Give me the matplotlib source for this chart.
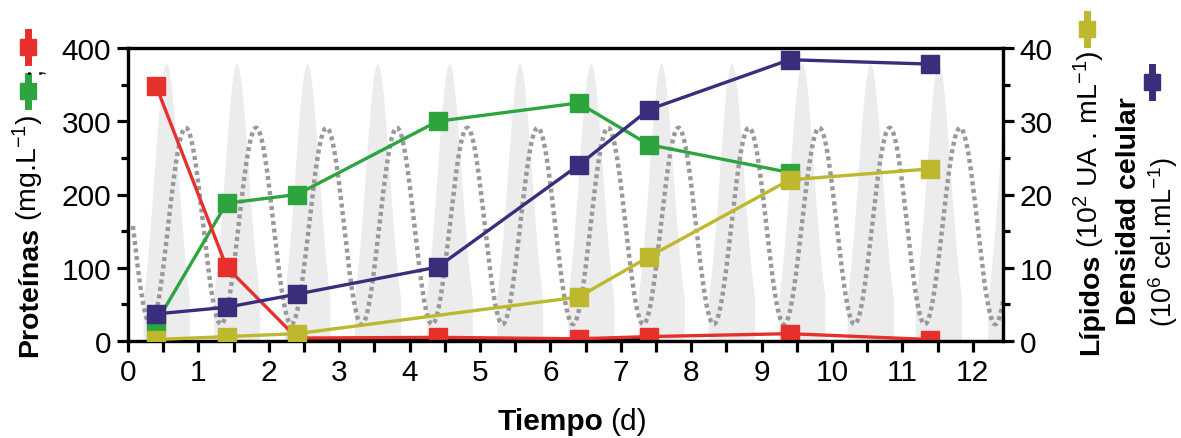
import numpy as np
import matplotlib
matplotlib.use("Agg")
import matplotlib.pyplot as plt
from matplotlib.lines import Line2D
from matplotlib.ticker import MultipleLocator

plt.rcParams['font.family'] = ['Liberation Sans', 'DejaVu Sans']
plt.rcParams['mathtext.fontset'] = 'custom'
plt.rcParams['mathtext.rm'] = 'Liberation Sans'
plt.rcParams['mathtext.it'] = 'Liberation Sans:italic'
plt.rcParams['mathtext.bf'] = 'Liberation Sans:bold'

# datos (tiempo en dias)
t_prot = [0.4, 1.4, 2.4, 4.4, 6.4, 7.4, 9.4, 11.4]
proteinas_a = [348, 101, 4, 5, 3, 6, 10, 2]          # rojo, mg/L
t_prot_b = [0.4, 1.4, 2.4, 4.4, 6.4, 7.4, 9.4]
proteinas_b = [25, 188, 200, 300, 325, 268, 230]     # verde, mg/L
t_negro = [2.4, 4.4, 6.4, 7.4]
negro = [2, 1, 1, 4]

t_lip = [0.4, 1.4, 2.4, 6.4, 7.4, 9.4, 11.4]
lipidos = [0.2, 0.6, 1.0, 6.0, 11.5, 22.0, 23.5]     # 10^2 UA/mL
t_dens = [0.4, 1.4, 2.4, 4.4, 6.4, 7.4, 9.4, 11.4]
densidad = [3.7, 4.6, 6.4, 10.1, 24.0, 31.6, 38.4, 37.8]  # 10^6 cel/mL

# ciclo de luz (fondo)
picos_luz = [0.55, 1.55, 2.55, 3.55, 4.57, 5.57, 6.58, 7.58, 8.58, 9.58, 10.55, 11.52, 12.55]
altura_pico = 378
valles_ciclo = [0.32 + i for i in range(13)]
ciclo_max, ciclo_min = 291, 23

rojo = '#e6302c'
verde = '#2ea43f'
azul = '#382e7c'
amarillo = '#bdb82e'

W, H = 1181, 439
fig = plt.figure(figsize=(W / 100, H / 100), dpi=100)
ax = fig.add_axes([128 / W, 1 - 342 / H, (1003 - 128) / W, (342 - 49) / H])
ax2 = ax.twinx()

# fondo: picos grises
xs = np.linspace(-0.5, 13, 3000)
fondo = np.zeros_like(xs)
for c in picos_luz:
    m = np.abs(xs - c) <= 0.33
    fondo[m] = np.maximum(fondo[m], altura_pico * np.exp(-(xs[m] - c) ** 2 / (2 * 0.17 ** 2)))
ax.fill_between(xs, 0, fondo, where=fondo > 0, color='#ececec', lw=0, zorder=0)

# curva punteada
xc = np.linspace(0.07, 12.45, 2000)
mid = (ciclo_max + ciclo_min) / 2
amp = (ciclo_max - ciclo_min) / 2
yc = mid - amp * np.cos(2 * np.pi * (xc - valles_ciclo[0]))
ax.plot(xc, yc, color='#999999', lw=3.2, ls=(0, (0.9, 0.8)), zorder=1)

lw, ms = 2.4, 13
ax.plot(t_negro, negro, color='black', lw=3, zorder=2)
ax.plot(t_prot_b, proteinas_b, color=verde, lw=lw, marker='s', ms=ms, zorder=3)
ax.plot(t_prot, proteinas_a, color=rojo, lw=lw, marker='s', ms=ms, zorder=4)
ax2.plot(t_dens, densidad, color=azul, lw=lw, marker='s', ms=ms, zorder=3)
ax2.plot(t_lip, lipidos, color=amarillo, lw=lw, marker='s', ms=ms, zorder=4)

ax.set_xlim(0, 12.43)
ax.set_ylim(0, 400)
ax2.set_ylim(0, 40)
ax.xaxis.set_major_locator(MultipleLocator(1))
ax.xaxis.set_minor_locator(MultipleLocator(0.5))
ax.yaxis.set_major_locator(MultipleLocator(100))
ax.yaxis.set_minor_locator(MultipleLocator(50))
ax2.yaxis.set_major_locator(MultipleLocator(10))
ax2.yaxis.set_minor_locator(MultipleLocator(5))

for a in (ax, ax2):
    for s in a.spines.values():
        s.set_linewidth(2.3)
    a.tick_params(which='major', direction='out', length=8, width=2.3, labelsize=21.5, pad=4)
    a.tick_params(which='minor', direction='out', length=5, width=2.3)
ax.tick_params(axis='x', which='minor', length=8)

# textos de ejes
r = fig.canvas.get_renderer()


def texto_vertical(x, y, partes, fs=20.5):
    yy = 1 - y / H
    for s, w in partes:
        t = fig.text(x / W, yy, s, rotation=90, rotation_mode='anchor',
                     ha='left', va='baseline', fontsize=fs, fontweight=w)
        bb = t.get_window_extent(r)
        yy += (bb.height + 6) / H


def texto_horizontal(x, y, partes, fs=21.5):
    xx = x / W
    for s, w in partes:
        t = fig.text(xx, 1 - y / H, s, ha='left', va='baseline', fontsize=fs, fontweight=w)
        bb = t.get_window_extent(r)
        xx += (bb.width + 6) / W


texto_vertical(37, 357, [('Proteínas', 'bold'), ('(mg.L$^{-1}$)', 'normal')])
texto_vertical(1098, 355, [('Lípidos', 'bold'), ('(10$^{2}$ UA . mL$^{-1}$)', 'normal')])
texto_vertical(1136, 325, [('Densidad celular', 'bold')])
texto_vertical(1172, 327, [('(10$^{6}$ cel.mL$^{-1}$)', 'normal')], fs=19.5)
texto_horizontal(498, 430, [('Tiempo', 'bold'), ('(d)', 'normal')])


def simbolo(x, y, color):
    fx, fy = x / W, 1 - y / H
    fig.add_artist(Line2D([fx, fx], [fy - 15 / H, fy + 15 / H], color=color, lw=5,
                          transform=fig.transFigure))
    fig.add_artist(Line2D([fx], [fy], color=color, marker='s', ms=12, lw=0,
                          transform=fig.transFigure))


simbolo(28, 48, rojo)
simbolo(28, 92, verde)
fig.text(33 / W, 1 - 71 / H, ';', rotation=90, ha='center', va='center', fontsize=18)
simbolo(1087, 30, amarillo)
simbolo(1152, 83, azul)

fig.savefig('out.png', dpi=100)
